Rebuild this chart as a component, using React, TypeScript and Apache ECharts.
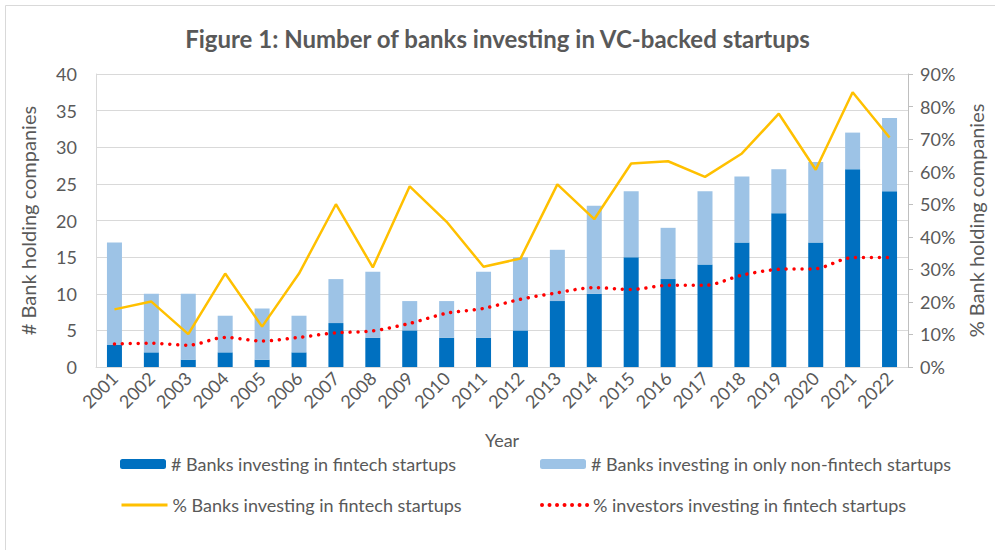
import React, { useEffect, useRef } from "react";
import * as echarts from "echarts";

const years = ["2001","2002","2003","2004","2005","2006","2007","2008","2009","2010","2011","2012","2013","2014","2015","2016","2017","2018","2019","2020","2021","2022"];
const fintechBanks = [3,2,1,2,1,2,6,4,5,4,4,5,9,10,15,12,14,17,21,17,27,24];
const nonFintechBanks = [14,8,9,5,7,5,6,9,4,5,9,10,7,12,9,7,10,9,6,11,5,10];
const pctBanksFintech = [17.7,20.1,10.1,28.7,12.4,28.7,50.0,30.6,55.5,44.6,30.8,33.3,56.1,45.4,62.5,63.2,58.4,65.6,77.8,60.6,84.4,70.5];
const pctInvestorsFintech = [7.1,7.3,6.7,9.1,8.0,9.1,10.5,11.1,13.4,16.5,18.0,20.8,22.8,24.4,23.8,25.1,25.1,28.2,30.0,30.2,33.6,33.6];

const leftTicks = { min: 0, max: 40, interval: 5 };
const rightTicks = { min: 0, max: 90, interval: 10 };

const FONT = "Lato";
const GREY = "#595959";

export default function App() {
  const ref = useRef<HTMLDivElement>(null);
  useEffect(() => {
    if (!ref.current) return;
    const chart = echarts.init(ref.current, undefined, { renderer: "svg" });
    const legendBase = {
      orient: "horizontal",
      padding: 0,
      itemWidth: 46,
      itemHeight: 10,
      itemGap: 5,
      textStyle: { color: GREY, fontSize: 18, fontFamily: FONT },
    };
    chart.setOption({
      animation: false,
      backgroundColor: "#ffffff",
      textStyle: { fontFamily: FONT },
      title: {
        text: "Figure 1: Number of banks investing in VC-backed startups",
        left: "center",
        top: 21,
        textStyle: { color: GREY, fontSize: 24, fontWeight: "bold", fontFamily: FONT },
      },
      graphic: [
        {
          type: "rect",
          shape: { x: 5.5, y: 5.5, width: 1000, height: 560 },
          style: { fill: "none", stroke: "#d9d9d9", lineWidth: 1 },
          silent: true,
        },
      ],
      legend: [
        { ...legendBase, left: 120, top: 455, data: ["# Banks investing in fintech startups"] },
        { ...legendBase, left: 540, top: 455, data: ["# Banks investing in only non-fintech startups"] },
        {
          ...legendBase, left: 120, top: 496,
          itemStyle: { opacity: 0 },
          lineStyle: { width: 3 },
          data: ["% Banks investing in fintech startups"],
        },
        {
          ...legendBase, left: 540, top: 496,
          itemStyle: { opacity: 0 },
          lineStyle: { width: 4, type: [0.01, 7.5], cap: "round" },
          data: ["% investors investing in fintech startups"],
        },
      ],
      grid: { left: 96, right: 87, top: 74, bottom: 183 },
      xAxis: {
        type: "category",
        data: years,
        name: "Year",
        nameLocation: "middle",
        nameGap: 64,
        nameTextStyle: { color: GREY, fontSize: 18, fontFamily: FONT },
        axisLine: { lineStyle: { color: "#d9d9d9", width: 1 } },
        axisTick: { show: false },
        axisLabel: { rotate: 45, color: GREY, fontSize: 18, fontFamily: FONT, margin: 8, interval: 0 },
      },
      yAxis: [
        {
          type: "value",
          ...leftTicks,
          name: "# Bank holding companies",
          nameLocation: "middle",
          nameGap: 58,
          nameTextStyle: { color: GREY, fontSize: 20, fontFamily: FONT },
          axisLine: { show: true, lineStyle: { color: "#d9d9d9" } },
          axisTick: { show: false },
          axisLabel: { color: GREY, fontSize: 18, fontFamily: FONT, margin: 19 },
          splitLine: { lineStyle: { color: "#d9d9d9", width: 1 } },
        },
        {
          type: "value",
          ...rightTicks,
          position: "right",
          name: "% Bank holding companies",
          nameLocation: "middle",
          nameGap: 54,
          nameRotate: 90,
          nameTextStyle: { color: GREY, fontSize: 20, fontFamily: FONT },
          axisLine: { show: true, lineStyle: { color: "#bfbfbf" } },
          axisTick: { show: true, length: 5, lineStyle: { color: "#bfbfbf" } },
          axisLabel: { color: GREY, fontSize: 18, fontFamily: FONT, margin: 12, formatter: "{value}%" },
          splitLine: { show: false },
        },
      ],
      series: [
        {
          name: "# Banks investing in fintech startups",
          type: "bar",
          stack: "banks",
          barWidth: 15,
          data: fintechBanks,
          itemStyle: { color: "#0070C0" },
        },
        {
          name: "# Banks investing in only non-fintech startups",
          type: "bar",
          stack: "banks",
          barWidth: 15,
          data: nonFintechBanks,
          itemStyle: { color: "#9DC3E6" },
        },
        {
          name: "% Banks investing in fintech startups",
          type: "line",
          yAxisIndex: 1,
          data: pctBanksFintech,
          symbol: "none",
          itemStyle: { color: "#FFC000" },
          lineStyle: { color: "#FFC000", width: 2.5 },
        },
        {
          name: "% investors investing in fintech startups",
          type: "line",
          yAxisIndex: 1,
          data: pctInvestorsFintech,
          symbol: "none",
          smooth: 0.3,
          itemStyle: { color: "#FF0000" },
          lineStyle: { color: "#FF0000", width: 3.5, type: [0.01, 7.9], cap: "round" },
        },
      ],
    });
    return () => chart.dispose();
  }, []);
  return (
    <div
      ref={ref}
      style={{ position: "fixed", left: 0, top: 0, width: 995, height: 550, background: "#fff" }}
    />
  );
}
